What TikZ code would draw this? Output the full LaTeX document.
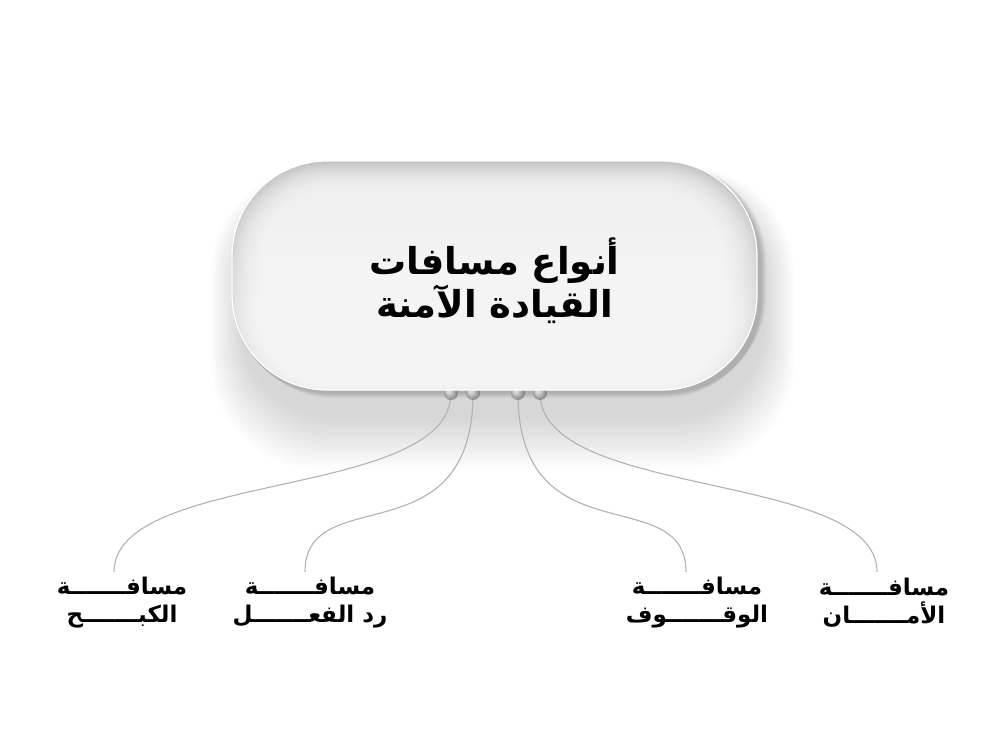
\documentclass[tikz,border=0pt]{standalone}
\usepackage{fontspec}
\TeXXeTstate=1
\newfontfamily\arabicfont[Script=Arabic]{DejaVu Sans}
\begin{document}
\begin{tikzpicture}[x=1pt,y=-1pt,
  conn/.style={draw=black!30, line width=1.1pt},
  knob/.style={circle, inner sep=0pt, minimum size=14pt, ball color=black!12, draw=none},
  lbl/.style={align=center, inner sep=1pt, font=\arabicfont\bfseries\fontsize{23}{28}\selectfont},
  title/.style={align=center, inner sep=0pt, font=\arabicfont\bfseries\fontsize{37}{40}\selectfont}
]
\useasboundingbox[fill=white] (0,0) rectangle (1000,750);
% soft wide drop shadow
\foreach \i in {0,...,39}{
  \fill[black, opacity=0.005, rounded corners=110pt-0.4*\i pt]
    (210+0.8*\i, 166+0.5*\i) rectangle (795-0.8*\i, 470-1.3*\i);
}
% tight contact shadow
\foreach \i in {0,...,5}{
  \fill[black, opacity=0.03, rounded corners=98pt]
    (232+4-\i, 161+2) rectangle (757+4+\i, 390+8-\i);
}
% connector points
\coordinate (p1) at (451,393);
\coordinate (p2) at (473,393);
\coordinate (p3) at (518,393);
\coordinate (p4) at (540,393);
% labels
\node[lbl] (l1) at (122,603) {\beginR مسافـــــــة\endR\\\beginR الكبـــــــح\endR};
\node[lbl] (l2) at (310,603) {\beginR مسافـــــــة\endR\\\beginR رد الفعـــــــل\endR};
\node[lbl] (l3) at (697,603) {\beginR مسافـــــــة\endR\\\beginR الوقـــــــوف\endR};
\node[lbl] (l4) at (884,603) {\beginR مسافـــــــة\endR\\\beginR الأمـــــــان\endR};
% connectors
\coordinate (e1) at (114,572);
\coordinate (e2) at (305,572);
\coordinate (e3) at (686,572);
\coordinate (e4) at (877,572);
\draw[conn] (p1) .. controls (451,500) and (114,470) .. (e1);
\draw[conn] (p2) .. controls (473,560) and (305,480) .. (e2);
\draw[conn] (p3) .. controls (518,560) and (686,480) .. (e3);
\draw[conn] (p4) .. controls (540,500) and (877,470) .. (e4);
\foreach \p in {p1,p2,p3,p4}{ \node[knob, opacity=0.6] at (\p) {}; }
% main pill
\node[draw=white, line width=1.2pt, rounded corners=95pt, minimum width=525pt, minimum height=229pt,
      top color=black!24, bottom color=black!6] (box) at (494.5,275.5) {};
\foreach \i in {1,...,18}{
  \fill[white, opacity=0.09, rounded corners=95pt-1.4*\i pt]
    (232+1.6*\i, 161+1.6*\i) rectangle (757-1.8*\i, 390-0.8*\i);
}
\node[title] (t) at (494.5,281) {\beginR أنواع مسافات\endR\\\beginR القيادة الآمنة\endR};
\end{tikzpicture}
\end{document}
